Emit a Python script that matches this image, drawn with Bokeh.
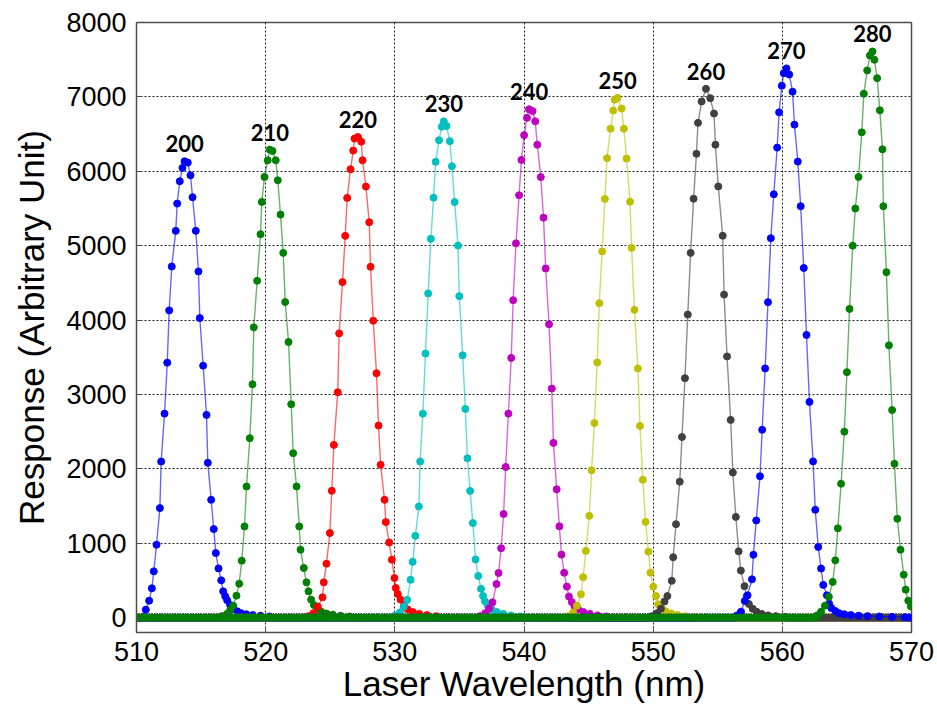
import numpy as np
from bokeh.plotting import figure
from bokeh.models import Range1d, FixedTicker
from bokeh.core.properties import value
from bokeh.embed import file_html
from bokeh.resources import INLINE

# Wavelength scan settings (nm); samples outside each peak sit on the zero baseline
SCAN_START = 510.0
SCAN_STOP = 570.0
SCAN_STEP = 0.2

CHANNELS = ["200", "210", "220", "230", "240", "250", "260", "270", "280"]
COLORS = ["#0000ff", "#008000", "#ff0000", "#00bfbf", "#bf00bf",
          "#bfbf00", "#404040", "#0000ff", "#008000"]

X_TICKS = [510, 520, 530, 540, 550, 560, 570]
Y_TICKS = [0, 1000, 2000, 3000, 4000, 5000, 6000, 7000, 8000]

# Measured response around each channel peak
X_200 = [510.26, 510.52, 510.72, 510.98, 511.19, 511.34, 511.55, 511.81, 511.91, 512.17,
         512.38, 512.53, 512.73, 513.04, 513.15, 513.35, 513.56, 513.72, 513.97, 514.18,
         514.34, 514.59, 514.80, 514.90, 515.16, 515.42, 515.52, 515.78, 515.98, 516.14,
         516.35, 516.56, 516.71, 516.87, 517.02, 517.25, 517.5, 517.8, 518.1, 518.5,
         519.0, 519.6, 520.3]
Y_200 = [0, 10, 107, 228, 394, 622, 980, 1472, 2098, 2742,
         3427, 4130, 4720, 5199, 5566, 5866, 6045, 6134, 6117, 5946,
         5651, 5199, 4653, 4027, 3387, 2725, 2081, 1584, 1190, 868,
         662, 501, 353, 286, 232, 170, 120, 85, 60, 45,
         35, 25, 15]

X_210 = [516.6, 517.0, 517.25, 517.49, 517.74, 517.95, 518.15, 518.36, 518.52, 518.77,
         518.98, 519.08, 519.34, 519.60, 519.70, 519.91, 520.16, 520.32, 520.53, 520.78,
         520.94, 521.15, 521.36, 521.51, 521.77, 521.98, 522.13, 522.39, 522.60, 522.70,
         522.95, 523.16, 523.32, 523.52, 523.73, 524.0, 524.3, 524.7, 525.2, 525.8,
         526.5]
Y_210 = [20, 50, 100, 161, 295, 456, 765, 1226, 1763, 2412,
         3137, 3902, 4528, 5154, 5588, 5924, 6148, 6291, 6273, 6148,
         5879, 5418, 4903, 4242, 3705, 2868, 2211, 1763, 1226, 913,
         667, 474, 353, 242, 170, 120, 80, 55, 40, 25,
         15]

X_220 = [523.3, 523.7, 524.04, 524.40, 524.50, 524.71, 524.97, 525.12, 525.28, 525.58,
         525.69, 525.95, 526.16, 526.31, 526.57, 526.78, 526.88, 527.14, 527.40, 527.50,
         527.76, 528.02, 528.12, 528.33, 528.58, 528.74, 528.90, 529.20, 529.30, 529.56,
         529.77, 529.97, 530.07, 530.23, 530.44, 530.7, 531.0, 531.4, 531.9, 532.5,
         533.2]
Y_220 = [20, 60, 148, 273, 474, 725, 1137, 1705, 2322, 3029,
         3821, 4510, 5132, 5642, 6027, 6278, 6439, 6461, 6398, 6148,
         5795, 5315, 4716, 3991, 3285, 2581, 2054, 1584, 1284, 1011,
         779, 533, 399, 318, 242, 160, 110, 75, 50, 35,
         20]

X_230 = [530.0, 530.4, 530.69, 530.96, 531.22, 531.38, 531.59, 531.86, 531.96, 532.17,
         532.37, 532.58, 532.79, 533.00, 533.16, 533.42, 533.63, 533.79, 534.00, 534.26,
         534.42, 534.63, 534.89, 534.99, 535.25, 535.46, 535.62, 535.83, 536.04, 536.25,
         536.46, 536.67, 536.83, 536.98, 537.2, 537.5, 537.9, 538.4, 539.0, 539.7]
Y_230 = [25, 70, 146, 238, 509, 750, 1099, 1494, 2098, 2742,
         3550, 4357, 5092, 5645, 6127, 6417, 6599, 6671, 6608, 6404,
         6068, 5586, 5001, 4321, 3527, 2805, 2142, 1703, 1271, 781,
         560, 387, 291, 219, 160, 110, 75, 50, 30, 15]

X_240 = [536.6, 537.0, 537.30, 537.56, 537.87, 538.03, 538.23, 538.42, 538.58, 538.79,
         539.01, 539.16, 539.38, 539.62, 539.80, 540.01, 540.23, 540.39, 540.66, 540.87,
         541.03, 541.30, 541.51, 541.68, 541.94, 542.15, 542.28, 542.53, 542.74, 542.90,
         543.11, 543.32, 543.48, 543.70, 543.91, 544.2, 544.6, 545.1, 545.7, 546.4]
Y_240 = [20, 60, 123, 205, 451, 600, 932, 1393, 2025, 2742,
         3491, 4267, 5031, 5678, 6153, 6486, 6718, 6833, 6809, 6671,
         6357, 5922, 5377, 4693, 3943, 3079, 2349, 1725, 1227, 847,
         603, 417, 283, 209, 154, 110, 75, 50, 30, 15]

X_250 = [543.4, 543.8, 544.1, 544.41, 544.58, 544.79, 545.06, 545.23, 545.45, 545.67,
         545.83, 546.05, 546.26, 546.43, 546.70, 546.91, 547.02, 547.24, 547.56, 547.73,
         547.94, 548.21, 548.33, 548.55, 548.82, 548.98, 549.20, 549.41, 549.63, 549.79,
         550.01, 550.22, 550.39, 550.7, 551.0, 551.4, 551.9, 552.5, 553.2]
Y_250 = [20, 70, 160, 313, 544, 897, 1368, 1980, 2615, 3430,
         4226, 4923, 5629, 6176, 6572, 6816, 6962, 6987, 6844, 6572,
         6172, 5592, 4970, 4137, 3350, 2577, 1852, 1287, 887, 604,
         416, 289, 180, 120, 80, 55, 35, 20, 10]

X_260 = [549.9, 550.3, 550.6, 550.88, 551.10, 551.44, 551.55, 551.77, 552.06, 552.23,
         552.46, 552.68, 552.90, 553.13, 553.35, 553.47, 553.75, 554.09, 554.42, 554.71,
         554.82, 555.04, 555.38, 555.49, 555.72, 556.00, 556.17, 556.40, 556.62, 556.79,
         557.07, 557.24, 557.41, 557.7, 558.0, 558.4, 558.9, 559.5, 560.2]
Y_260 = [20, 60, 120, 217, 290, 495, 812, 1256, 1828, 2428,
         3219, 4074, 4903, 5631, 6235, 6651, 6938, 7109, 6983, 6777,
         6357, 5796, 5133, 4342, 3511, 2658, 1950, 1354, 891, 632,
         423, 290, 183, 120, 80, 50, 30, 20, 10]

X_270 = [556.5, 556.8, 557.09, 557.31, 557.65, 557.76, 557.98, 558.27, 558.44, 558.67,
         558.89, 559.11, 559.34, 559.60, 559.75, 559.96, 560.11, 560.32, 560.53, 560.79,
         560.94, 561.20, 561.42, 561.66, 561.87, 562.10, 562.38, 562.55, 562.78, 563.00,
         563.17, 563.45, 563.62, 563.79, 564.1, 564.4, 564.8, 565.3, 565.9, 566.6,
         567.5, 568.5, 569.5]
Y_270 = [30, 80, 225, 300, 515, 845, 1306, 1900, 2525, 3350,
         4240, 5100, 5691, 6318, 6792, 7150, 7319, 7383, 7302, 7070,
         6627, 6130, 5530, 4700, 3800, 2900, 2100, 1450, 950, 660,
         440, 300, 190, 130, 90, 60, 45, 35, 25, 20,
         15, 10, 5]

X_280 = [562.7, 563.0, 563.3, 563.6, 563.9, 564.1, 564.3, 564.55, 564.8, 565.0,
         565.2, 565.45, 565.65, 565.90, 566.15, 566.31, 566.57, 566.78, 566.98, 567.13,
         567.34, 567.55, 567.75, 567.82, 568.06, 568.25, 568.50, 568.68, 568.90, 569.15,
         569.40, 569.55, 569.75, 569.95]
Y_280 = [30, 80, 160, 280, 480, 770, 1200, 1800, 2500, 3300,
         4150, 5000, 5500, 5924, 6523, 7043, 7356, 7557, 7611, 7499,
         7252, 6819, 6295, 5530, 4644, 3660, 2790, 2067, 1329, 913,
         577, 376, 228, 150]

PEAK_X = [X_200, X_210, X_220, X_230, X_240, X_250, X_260, X_270, X_280]
PEAK_Y = [Y_200, Y_210, Y_220, Y_230, Y_240, Y_250, Y_260, Y_270, Y_280]


def full_trace(px, py):
    """Merge the peak samples with the zero baseline of the rest of the scan."""
    px = np.asarray(px, dtype=float)
    py = np.asarray(py, dtype=float)
    grid = np.arange(SCAN_START, SCAN_STOP + 1e-9, SCAN_STEP)
    base = grid[(grid < px.min() - 0.1) | (grid > px.max() + 0.1)]
    xs = np.concatenate([base, px])
    ys = np.concatenate([np.zeros(len(base)), py])
    order = np.argsort(xs)
    return xs[order], ys[order]


p = figure(width=937, height=714, output_backend="svg", toolbar_location=None,
           x_range=Range1d(510, 570), y_range=Range1d(-200, 8000),
           min_border_left=136, min_border_right=26,
           min_border_top=22, min_border_bottom=82)

p.background_fill_color = "white"
p.border_fill_color = "white"
p.outline_line_color = "#4d4d4d"
p.outline_line_width = 1.5

for axis in (p.xaxis, p.yaxis):
    axis.major_label_text_font = "Liberation Sans"
    axis.major_label_text_font_size = "27px"
    axis.major_label_text_color = "black"
    axis.axis_label_text_font = "Liberation Sans"
    axis.axis_label_text_font_size = "35px"
    axis.axis_label_text_font_style = "normal"
    axis.axis_label_text_color = "black"
    axis.axis_line_color = "#4d4d4d"
    axis.major_tick_in = 6
    axis.major_tick_out = 0
    axis.minor_tick_line_color = None
    axis.major_tick_line_color = "#4d4d4d"

p.xaxis.ticker = FixedTicker(ticks=X_TICKS)
p.yaxis.ticker = FixedTicker(ticks=Y_TICKS)
p.xaxis.axis_label = "Laser Wavelength (nm)"
p.yaxis.axis_label = "Response (Arbitrary Unit)"
p.xaxis.major_label_standoff = 9
p.yaxis.major_label_standoff = 10
p.xaxis.axis_label_standoff = 0
p.yaxis.axis_label_standoff = 12

p.xgrid.ticker = FixedTicker(ticks=X_TICKS[1:-1])
p.ygrid.ticker = FixedTicker(ticks=Y_TICKS[1:-1])
for grid in (p.xgrid, p.ygrid):
    grid.grid_line_color = "#222222"
    grid.grid_line_dash = "2 2"
    grid.grid_line_width = 1

label_x, label_y, label_txt = [], [], []
for name, color, px, py in zip(CHANNELS, COLORS, PEAK_X, PEAK_Y):
    xs, ys = full_trace(px, py)
    p.line(xs, ys, line_color=color, line_width=1.4, line_alpha=0.6)
    p.scatter(xs, ys, size=7, fill_color=color, line_color=color)
    k = int(np.argmax(py))
    label_x.append(px[k])
    label_y.append(py[k])
    label_txt.append(name)

p.text(x=label_x, y=label_y, text=label_txt, text_font=value("Lato"),
       text_font_style="bold", text_font_size="22px", text_color="black",
       text_align="center", text_baseline="bottom", y_offset=-9)

open("out.html", "w").write(file_html(p, INLINE))
